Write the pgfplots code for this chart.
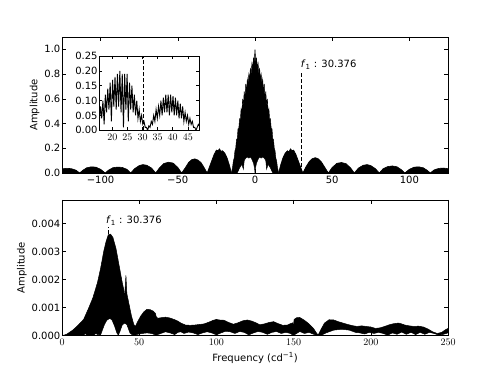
\documentclass[border=0pt]{standalone}
\usepackage{fontspec}
\setmainfont{DejaVu Sans}
\usepackage{pgfplots}
\pgfplotsset{compat=1.18}

\pgfplotsset{
  win/.style={
    scale only axis,
    anchor=south west,
    tick align=inside,
    major tick length=4pt,
    tick style={black, line width=0.6pt},
    axis line style={line width=0.9pt},
    every tick label/.append style={font=\fontsize{10}{12}\selectfont},
    yticklabel style={inner xsep=1.5pt},
    label style={font=\fontsize{10}{12}\selectfont},
    scaled y ticks=false,
    clip=true,
  },
}

\begin{document}
\begin{tikzpicture}[x=1pt,y=1pt]
\path[use as bounding box] (0,0) rectangle (498,374);

% ---- spectral window ----
\begin{axis}[win,
  at={(62pt,201pt)}, width=386pt, height=136pt,
  xmin=-125, xmax=125, ymin=0, ymax=1.1,
  xtick={-100,-50,0,50,100}, xticklabels={−100,−50,0,50,100},
  ytick={0,0.2,0.4,0.6,0.8,1.0}, yticklabels={0.0,0.2,0.4,0.6,0.8,1.0},
  ylabel={Amplitude},
]
% side lobes, right
\addplot[fill=black, draw=black, line width=0.6pt] coordinates {
  (15.3,0) (16.5,0.06) (18,0.12) (19.5,0.16) (21,0.18) (22,0.17) (23,0.195)
  (24,0.18) (25,0.185) (26.5,0.15) (28,0.1) (29.5,0.05) (31,0)
  (33,0.05) (35,0.09) (37,0.115) (39,0.124) (41,0.115) (43,0.09) (45,0.05) (47.5,0)
  (50,0.045) (53,0.078) (56,0.085) (59,0.075) (62,0.04) (64.3,0)
  (67,0.04) (70,0.062) (72.5,0.068) (75,0.06) (78,0.035) (80.5,0)
  (83,0.035) (86,0.052) (89,0.057) (92,0.05) (95,0.025) (97,0)
  (100,0.03) (103,0.047) (106,0.05) (109,0.042) (111.5,0.022) (113.5,0)
  (116,0.025) (119,0.037) (122,0.04) (125,0.035) (126,0)
} -- cycle;
% side lobes, left
\addplot[fill=black, draw=black, line width=0.6pt] coordinates {
  (-15.3,0) (-16.5,0.06) (-18,0.12) (-19.5,0.16) (-21,0.18) (-22,0.175) (-23,0.195)
  (-24,0.18) (-25,0.185) (-26.5,0.15) (-28,0.1) (-29.5,0.05) (-31,0)
  (-33,0.045) (-35,0.085) (-37,0.105) (-39,0.114) (-41,0.108) (-43,0.085) (-45,0.045) (-47.5,0)
  (-50,0.045) (-53,0.08) (-56,0.087) (-59,0.077) (-62,0.04) (-64.3,0)
  (-67,0.04) (-70,0.062) (-72.5,0.068) (-75,0.06) (-78,0.035) (-80.5,0)
  (-83,0.03) (-86,0.045) (-89,0.048) (-92,0.043) (-95,0.022) (-97,0)
  (-100,0.03) (-103,0.047) (-106,0.05) (-109,0.042) (-111.5,0.022) (-113.5,0)
  (-116,0.023) (-119,0.035) (-122,0.038) (-125,0.033) (-126,0)
} -- cycle;
% main lobe: jagged top, then the white notch underneath
\addplot[fill=black, draw=black, line width=0.4pt] coordinates {
  (-15.3,0) (-15,0.02) (-14.5,0.05) (-14,0.1) (-13.5,0.12) (-13,0.18) (-12.5,0.2)
  (-12,0.27) (-11.5,0.28) (-11,0.36) (-10.5,0.36) (-10,0.44) (-9.5,0.43) (-9,0.52)
  (-8.5,0.5) (-8,0.6) (-7.5,0.55) (-7,0.66) (-6.5,0.6) (-6,0.72) (-5.5,0.66)
  (-5,0.76) (-4.5,0.72) (-4,0.8) (-3.5,0.76) (-3,0.85) (-2.5,0.8) (-2,0.89)
  (-1.5,0.85) (-1,0.93) (-0.5,0.9) (0,1.0) (0.5,0.9) (1,0.93) (1.5,0.85)
  (2,0.89) (2.5,0.8) (3,0.85) (3.5,0.76) (4,0.8) (4.5,0.72) (5,0.76) (5.5,0.66)
  (6,0.72) (6.5,0.6) (7,0.66) (7.5,0.55) (8,0.6) (8.5,0.5) (9,0.52) (9.5,0.43)
  (10,0.44) (10.5,0.36) (11,0.36) (11.5,0.28) (12,0.27) (12.5,0.2) (13,0.18)
  (13.5,0.12) (14,0.1) (14.5,0.05) (15,0.02) (15.3,0)
  (11.5,0) (10,0.04) (8.5,0.07) (7.5,0.03) (7,0.1) (6,0.12) (5,0.13) (4,0.12)
  (3,0.13) (2,0.11) (1,0.08) (0.3,0.04) (0,0) (-0.3,0.04) (-1,0.08) (-2,0.11)
  (-3,0.13) (-4,0.12) (-5,0.13) (-6,0.12) (-7,0.1) (-7.5,0.03) (-8.5,0.07)
  (-10,0.04) (-11.5,0)
} -- cycle;
\addplot[black, line width=0.9pt, dash pattern=on 4pt off 2pt] coordinates {(30.376,0) (30.376,0.81)};
\node[anchor=base west, inner sep=0pt, font=\fontsize{10}{12}\selectfont]
  at (axis cs:29.6,0.85) {\textit{f}\textsubscript{1} : 30.376};
\end{axis}

% ---- inset ----
\begin{axis}[win,
  at={(99.3pt,243.7pt)}, width=100pt, height=74.3pt,
  axis background/.style={fill=white},
  xmin=15.7, xmax=48.8, ymin=0, ymax=0.25,
  xtick={20,25,30,35,40,45},
  ytick={0,0.05,0.1,0.15,0.2,0.25},
  yticklabels={0.00,0.05,0.10,0.15,0.20,0.25},
  major tick length=3pt,
]
\addplot[black, line width=0.9pt] coordinates {
  (15.7,0.03) (16.1,0.08) (16.5,0.04) (16.9,0.1) (17.3,0.02) (17.7,0.12)
  (18.1,0.06) (18.5,0.14) (18.9,0.07) (19.3,0.16) (19.7,0.03) (20.1,0.17)
  (20.5,0.08) (20.9,0.18) (21.3,0.07) (21.7,0.19) (22.1,0.08) (22.5,0.2)
  (22.9,0.06) (23.3,0.19) (23.7,0.01) (24.1,0.19) (24.5,0.07) (24.9,0.19)
  (25.3,0.03) (25.7,0.16) (26.1,0.07) (26.5,0.15) (26.9,0.06) (27.3,0.12)
  (27.7,0.05) (28.1,0.1) (28.5,0.04) (28.9,0.07) (29.3,0.03) (29.7,0.05)
  (30.1,0.02) (30.5,0.03) (30.9,0.01) (31.3,0.01) (31.7,0.0) (32.1,0.015)
  (32.5,0.01) (32.9,0.03) (33.3,0.02) (33.7,0.05) (34.1,0.03) (34.5,0.07)
  (34.9,0.04) (35.3,0.08) (35.7,0.05) (36.1,0.1) (36.5,0.05) (36.9,0.11)
  (37.3,0.06) (37.7,0.12) (38.1,0.06) (38.5,0.12) (38.9,0.05) (39.3,0.12)
  (39.7,0.06) (40.1,0.115) (40.5,0.05) (40.9,0.11) (41.3,0.05) (41.7,0.1)
  (42.1,0.04) (42.5,0.09) (42.9,0.04) (43.3,0.08) (43.7,0.03) (44.1,0.06)
  (44.5,0.03) (44.9,0.05) (45.3,0.02) (45.7,0.04) (46.1,0.02) (46.5,0.03)
  (46.9,0.01) (47.3,0.01) (47.7,0.0) (48.1,0.01) (48.5,0.02) (48.8,0.015)
};
\addplot[black, line width=0.9pt, dash pattern=on 4pt off 2pt] coordinates {(30.376,0) (30.376,0.25)};
\end{axis}

% ---- periodogram ----
\begin{axis}[win,
  at={(62pt,38.3pt)}, width=386pt, height=135.7pt,
  xmin=0, xmax=250, ymin=0, ymax=0.00484,
  xtick={0,50,100,150,200,250},
  ytick={0,0.001,0.002,0.003,0.004},
  yticklabels={0.000,0.001,0.002,0.003,0.004},
  xlabel={Frequency (cd\textsuperscript{−1})},
  ylabel={Amplitude},
]
\addplot[fill=black, draw=black, line width=0.5pt] coordinates {
  (0,0) (3,0.00005) (7,0.0002) (10,0.00035) (14,0.00058) (17,0.00095)
  (20,0.00135) (23,0.0019) (25,0.0024) (27,0.0030) (28.5,0.00335) (30,0.0036)
  (31.5,0.00362) (33,0.0035) (35,0.0031) (37,0.0025) (39,0.0019) (40,0.00165)
  (40.3,0.00135) (40.8,0.0016) (41.4,0.00215) (42,0.0015) (43.5,0.0011)
  (45,0.0007) (46.5,0.0004) (47.5,0.00033) (49,0.0005) (51,0.0007) (53,0.00085)
  (55,0.00094) (57,0.00093) (59,0.00088) (60.5,0.0008) (61,0.00068) (62,0.00062)
  (64,0.00064) (67,0.00066) (70,0.00063) (73,0.00057) (75,0.00052) (77,0.00045)
  (80,0.00038) (83,0.00037) (86,0.00038) (89,0.0004) (92,0.00042) (95,0.00048)
  (98,0.00055) (100,0.00058) (102,0.00056) (105,0.00055) (108,0.00047)
  (111,0.00041) (114,0.00046) (117,0.00053) (120,0.00056) (123,0.00052)
  (126,0.00045) (128,0.00039) (131,0.00042) (134,0.00047) (137,0.0005)
  (140,0.00043) (143,0.00037) (146,0.00038) (148,0.00043) (149.5,0.00046)
  (150,0.0003) (150.3,0.00058) (152,0.00064) (154,0.00065) (157,0.00055)
  (160,0.00042) (163,0.00025) (165,0.00008) (166,0.00003) (167.5,0.0002)
  (170,0.00045) (173,0.00057) (176,0.00056) (179,0.0005) (182,0.00045)
  (185,0.0004) (188,0.00036) (191,0.00033) (194,0.00035) (197,0.00033)
  (200,0.00031) (203,0.00026) (206,0.00028) (209,0.00033) (212,0.00039)
  (215,0.00043) (218,0.00045) (220,0.00042) (222,0.00038) (225,0.00035)
  (228,0.00033) (231,0.00034) (234,0.00031) (237,0.00024) (240,0.00014)
  (243,0.00008) (246,0.00012) (248,0.0002) (250,0.00026)
  (250,0.0001) (247,0.00005) (244,0.00002) (241,0.00008) (238,0.00012)
  (235,0.00005) (232,0.00012) (229,0.00004) (226,0.00012) (223,0.00005)
  (220,0.00013) (217,0.00005) (214,0.0001) (211,0.00002) (208,0.00008)
  (205,0.00012) (202,0.00008) (199,0.00012) (196,0.00006) (193,0.0001)
  (190,0.00012) (186,0.0002) (181,0.00023) (176,0.0002) (171,0.0001)
  (168,0.00002) (166,0) (163,0.00005) (160,0.00012) (157,0.00008) (154,0.00015)
  (151,0.00005) (150,0) (148,0.00008) (145,0.00012) (142,0.00008) (139,0.00015)
  (136,0.00012) (133,0.00005) (130,0.00012) (127,0.00015) (124,0.0001)
  (121,0.00003) (118,0.00012) (115,0.00015) (112,0.00008) (109,0.00014)
  (106,0.00016) (103,0.0001) (100,0.00003) (97,0.0001) (94,0.00014) (91,0.0001)
  (88,0.00004) (85,0.0001) (82,0.00013) (79,0.00008) (77,0.00014) (75,0.00012)
  (73,0.00004) (70,0.0001) (67,0.00014) (64,0.00008) (61,0.00002) (58,0.00008)
  (55,0.0001) (52,0.00008) (49,0.00005) (47,0.00002) (45,0.00005) (44,0.0001)
  (43,0.00025) (42,0.0004) (40.5,0.00045) (39,0.00038) (37.5,0.00015)
  (36.5,0.00002) (35.5,0.0001) (34,0.00035) (32.5,0.00055) (31,0.00062)
  (30.4,0.0006) (29,0.00055) (27.5,0.0004) (26,0.00018) (25,0.00003)
  (23,0.00004) (22,0.00008) (21,0.00004) (19,0.00001) (16,0.00002)
  (15,0.00008) (14,0.00002) (10,0)
} -- cycle;
\addplot[black, line width=0.9pt, dash pattern=on 4pt off 2pt] coordinates {(30.376,0.00362) (30.376,0.00388)};
\node[anchor=base west, inner sep=0pt, font=\fontsize{10}{12}\selectfont]
  at (axis cs:28.5,0.00400) {\textit{f}\textsubscript{1} : 30.376};
\end{axis}
\end{tikzpicture}
\end{document}
